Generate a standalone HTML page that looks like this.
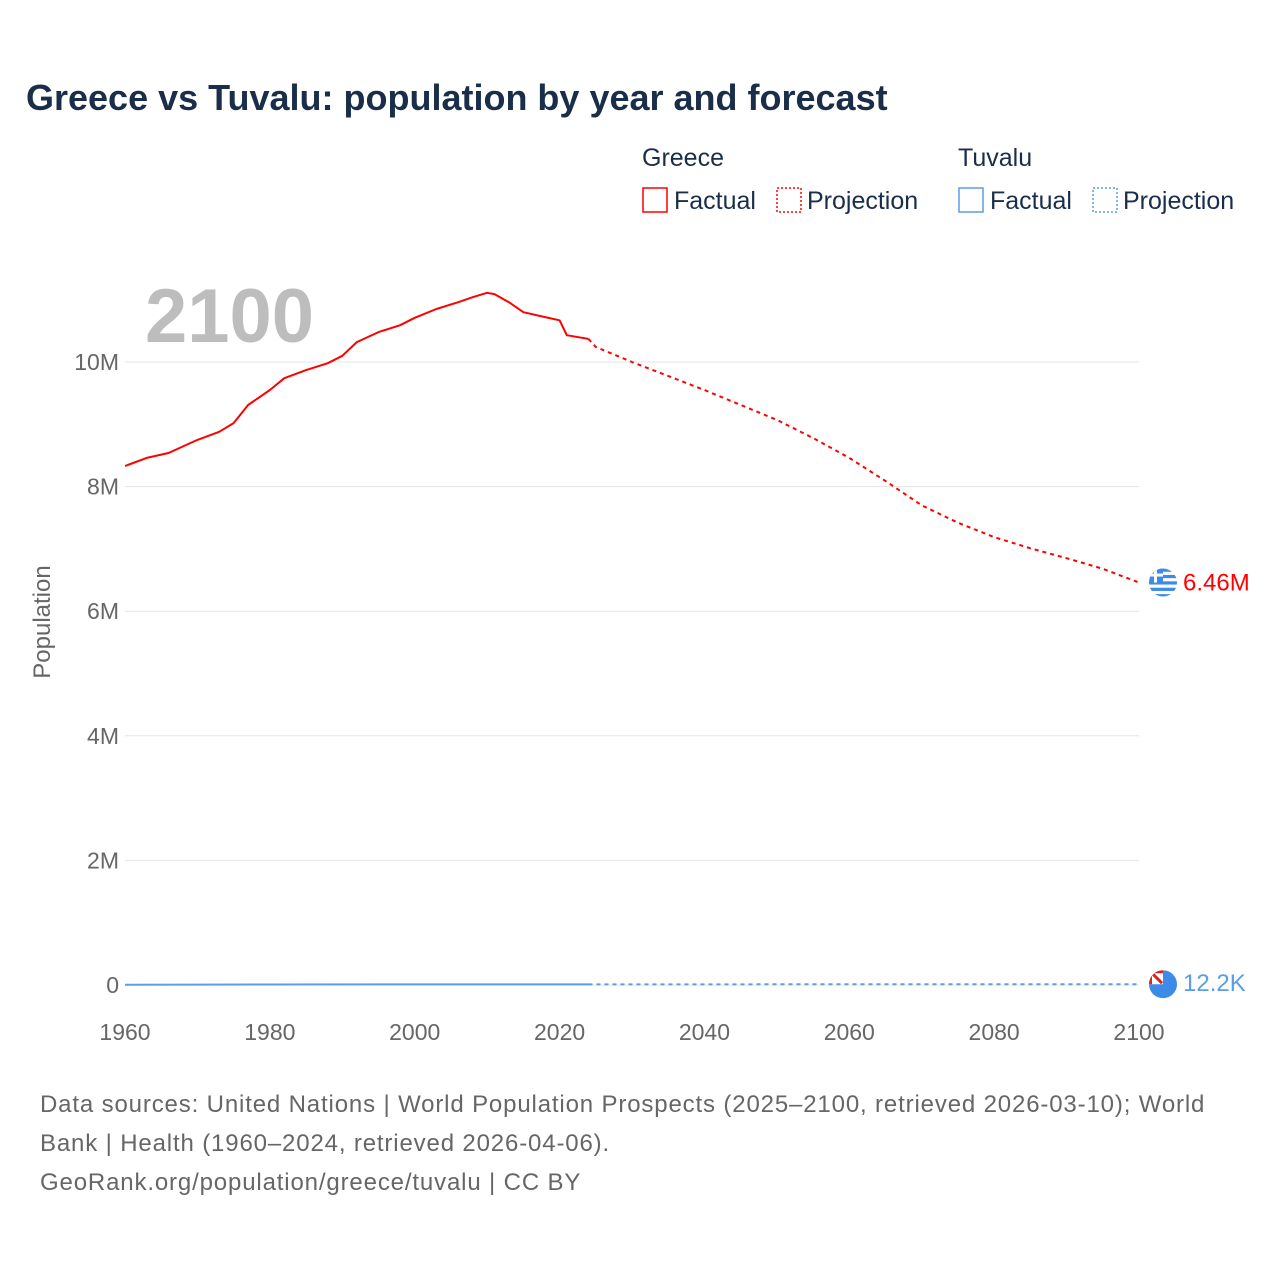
<!DOCTYPE html>
<html><head><meta charset="utf-8">
<style>
body{margin:0;background:#fff;}
svg text{font-family:"Liberation Sans",sans-serif;}
</style></head>
<body>
<svg id="chart" width="1280" height="1280" xmlns="http://www.w3.org/2000/svg">
<text x="26" y="110" font-size="36" font-weight="bold" fill="#1a2e4a">Greece vs Tuvalu: population by year and forecast</text>
<g font-size="25" fill="#1a2e4a">
<text x="642" y="166">Greece</text>
<rect x="643" y="188" width="24" height="24" fill="none" stroke="#f00" stroke-width="1.5"/>
<text x="674" y="209">Factual</text>
<rect x="777" y="188" width="24" height="24" fill="none" stroke="#f00" stroke-width="1.5" stroke-dasharray="2,2"/>
<text x="807" y="209">Projection</text>
<text x="958" y="166">Tuvalu</text>
<rect x="959" y="188" width="24" height="24" fill="none" stroke="#5a9ee8" stroke-width="1.5"/>
<text x="990" y="209">Factual</text>
<rect x="1093" y="188" width="24" height="24" fill="none" stroke="#5a9ee8" stroke-width="1.5" stroke-dasharray="2,2"/>
<text x="1123" y="209">Projection</text>
</g>
<text x="145" y="342" font-size="76" font-weight="bold" fill="#bdbdbd">2100</text>
<text transform="translate(50,622) rotate(-90)" text-anchor="middle" font-size="24" fill="#666">Population</text>
<g id="grid"></g><g id="lines"></g><g id="labels"></g>
<g font-size="24" fill="#666" letter-spacing="0.85">
<text x="40" y="1112">Data sources: United Nations | World Population Prospects (2025–2100, retrieved 2026-03-10); World</text>
<text x="40" y="1151">Bank | Health (1960–2024, retrieved 2026-04-06).</text>
<text x="40" y="1190">GeoRank.org/population/greece/tuvalu | CC BY</text>
</g>
</svg>
<script>
const greeceYears=[1960,1963,1966,1970,1973,1975,1977,1980,1982,1985,1988,1990,1992,1995,1998,2000,2003,2006,2008,2010,2011,2013,2015,2018,2020,2021,2023,2024];
const greeceValues=[8.33,8.46,8.54,8.75,8.88,9.02,9.31,9.55,9.74,9.87,9.98,10.10,10.32,10.48,10.59,10.71,10.85,10.96,11.04,11.11,11.09,10.96,10.80,10.72,10.67,10.43,10.39,10.37];
const greeceProjYears=[2024,2025,2030,2040,2050,2055,2060,2065,2070,2075,2080,2085,2090,2095,2100];
const greeceProjValues=[10.37,10.24,10.0,9.55,9.07,8.78,8.46,8.09,7.70,7.42,7.19,7.01,6.85,6.68,6.46];
const tuvaluYears=[1960,1980,2000,2024];
const tuvaluValues=[0.0054,0.0077,0.0094,0.0096];
const tuvaluProjYears=[2024,2050,2075,2100];
const tuvaluProjValues=[0.0096,0.0108,0.0117,0.0122];
const yTicks=[0,2,4,6,8,10];
const yTickLabels=["0","2M","4M","6M","8M","10M"];
const xTicks=[1960,1980,2000,2020,2040,2060,2080,2100];
const NS="http://www.w3.org/2000/svg";
const x=v=>125+(v-1960)*(1139-125)/140;
const y=v=>985-v*62.3;
function mk(t,a,p){const e=document.createElementNS(NS,t);for(const k in a)e.setAttribute(k,a[k]);document.getElementById(p).appendChild(e);return e;}
yTicks.forEach((v,i)=>{
 const l=mk('line',{x1:125,x2:1139,y1:y(v),y2:y(v),stroke:'#e6e6e6','stroke-width':1},'grid');
 
 
 const t=mk('text',{x:119,y:y(v)+8,'text-anchor':'end','font-size':23,fill:'#666'},'grid');
 t.textContent=yTickLabels[i];
 
 
});
xTicks.forEach(v=>{
 const t=mk('text',{x:x(v),y:1040,'text-anchor':'middle','font-size':23,fill:'#666'},'grid');
 t.textContent=v;
 
 
});
function path(xs,vs){return xs.map((a,i)=>(i?'L':'M')+x(a).toFixed(1)+','+y(vs[i]).toFixed(1)).join(' ');}
let p;
p=mk('path',{d:path(tuvaluYears,tuvaluValues),fill:'none',stroke:'#5a9ee8','stroke-width':2},'lines');


p=mk('path',{d:path(tuvaluProjYears,tuvaluProjValues),fill:'none',stroke:'#5a9ee8','stroke-width':2,'stroke-dasharray':'4,4'},'lines');


p=mk('path',{d:path(greeceYears,greeceValues),fill:'none',stroke:'#f00','stroke-width':2,'stroke-linejoin':'round'},'lines');


p=mk('path',{d:path(greeceProjYears,greeceProjValues),fill:'none',stroke:'#f00','stroke-width':2,'stroke-dasharray':'4,4'},'lines');


const gy=y(greeceProjValues[greeceProjValues.length-1]), ty=y(tuvaluProjValues[tuvaluProjValues.length-1]);
const gf=mk('g',{},'labels');


gf.innerHTML=`<defs><clipPath id="cg"><circle cx="1163" cy="${gy}" r="14"/></clipPath><clipPath id="ct"><circle cx="1163" cy="${ty}" r="14"/></clipPath></defs>
<g clip-path="url(#cg)"><rect x="1149" y="${gy-14}" width="28" height="28" fill="#fff"/>${[0,2,4,6,8].map(i=>`<rect x="1149" y="${gy-14+i*3.2}" width="28" height="3.2" fill="#3d8be8"/>`).join('')}<rect x="1149" y="${gy-14}" width="14" height="14" fill="#3d8be8"/><rect x="1154" y="${gy-14}" width="3" height="14" fill="#fff"/><rect x="1149" y="${gy-9}" width="14" height="3" fill="#fff"/></g>`;
const tf=mk('g',{},'labels');


tf.innerHTML=`<g clip-path="url(#ct)"><rect x="1149" y="${ty-14}" width="28" height="28" fill="#3d8be8"/><rect x="1149" y="${ty-14}" width="14" height="14" fill="#fff"/><path d="M1150 ${ty-13} L1162 ${ty-1}" stroke="#d22" stroke-width="3"/><rect x="1149" y="${ty-14}" width="14" height="3" fill="#d22"/><rect x="1149" y="${ty-14}" width="3" height="14" fill="#d22"/></g>`;
let t=mk('text',{x:1183,y:gy+8,'font-size':24,fill:'#f00'},'labels');
t.textContent='6.46M';


t=mk('text',{x:1183,y:ty+7,'font-size':24,fill:'#5a9ee8'},'labels');
t.textContent='12.2K';


</script>
</body></html>
